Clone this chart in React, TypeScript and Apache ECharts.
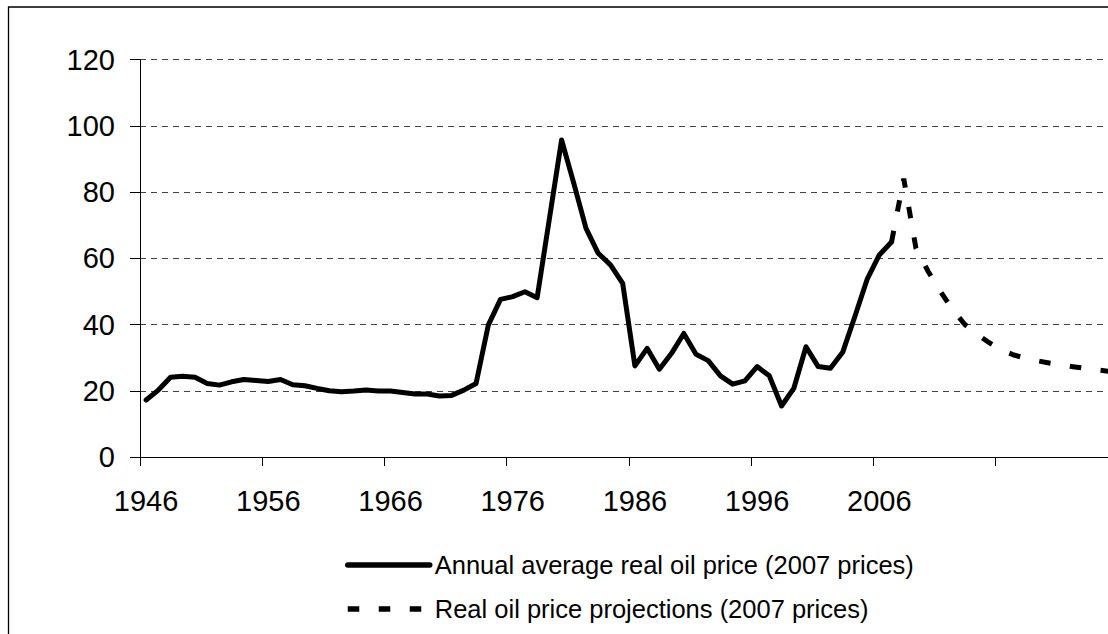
import React, { useEffect, useRef } from "react";
import * as echarts from "echarts";

const FIRST_YEAR = 1946;
const LAST_YEAR = 2025;
const LAST_LABELLED_YEAR = 2007;

const years: string[] = [];
for (let y = FIRST_YEAR; y <= LAST_YEAR; y++) years.push(String(y));

// Annual average real oil price (2007 prices), 1946–2007
const historical = [
  17.2, 20.2, 24.1, 24.4, 24.1, 22.2, 21.7, 22.7, 23.4, 23.1,
  22.8, 23.4, 21.8, 21.5, 20.7, 20.0, 19.7, 19.9, 20.2, 19.9,
  19.9, 19.5, 19.0, 19.0, 18.4, 18.6, 20.2, 22.2, 39.8, 47.6,
  48.4, 49.9, 48.1, 71.9, 95.7, 82.6, 69.0, 61.5, 58.0, 52.4,
  27.5, 32.8, 26.5, 31.3, 37.3, 31.0, 29.1, 24.5, 22.0, 23.0,
  27.3, 24.5, 15.4, 20.7, 33.3, 27.3, 26.8, 31.6, 42.4, 53.6,
  61.0, 64.9,
];

// Real oil price projections (2007 prices), 2007–2025
const PROJECTION_START = 2007;
const projection = [
  64.9, 84.0, 63.0, 56.0, 50.0, 44.5, 40.0, 37.0, 34.5, 32.3,
  30.8, 29.8, 29.0, 28.3, 27.7, 27.2, 26.7, 26.2, 25.8,
];

const yTicks = { min: 0, max: 120, interval: 20 };

const seriesNames = [
  "Annual average real oil price (2007 prices)",
  "Real oil price projections (2007 prices)",
];

const FONT = "'Liberation Sans', Arial, sans-serif";

export default function App() {
  const ref = useRef<HTMLDivElement>(null);

  useEffect(() => {
    if (!ref.current) return;
    const chart = echarts.init(ref.current, null, { renderer: "svg" });
    const projData: (number | null)[] = [];
    for (let i = 0; i < PROJECTION_START - FIRST_YEAR; i++) projData.push(null);
    projection.forEach((v) => projData.push(v));

    chart.setOption({
      animation: false,
      backgroundColor: "#ffffff",
      textStyle: { fontFamily: FONT, color: "#000" },
      graphic: [
        {
          type: "rect",
          shape: { x: 8.5, y: 7, width: 1300, height: 800 },
          style: { fill: "none", stroke: "#000", lineWidth: 1.3 },
          silent: true,
        },
      ],
      grid: { left: 140, right: 12.4, top: 59.5, bottom: 177, containLabel: false },
      legend: {
        orient: "vertical",
        left: 340,
        top: 546,
        itemWidth: 82,
        itemHeight: 1,
        itemGap: 16,
        lineStyle: { width: 5.5 },
        textStyle: { fontFamily: FONT, fontSize: 25.5, color: "#000", lineHeight: 28 },
        data: seriesNames,
      },
      xAxis: {
        type: "category",
        data: years,
        boundaryGap: true,
        axisLine: { show: true, lineStyle: { color: "#000", width: 1 } },
        axisTick: { show: true, interval: 9, length: 9, lineStyle: { color: "#000" } },
        axisLabel: {
          interval: 9,
          margin: 29,
          fontSize: 29,
          fontFamily: FONT,
          color: "#000",
          formatter: (v: string) => (Number(v) <= LAST_LABELLED_YEAR ? v : ""),
        },
        splitLine: { show: false },
      },
      yAxis: {
        type: "value",
        min: yTicks.min,
        max: yTicks.max,
        interval: yTicks.interval,
        axisLine: { show: true, lineStyle: { color: "#000", width: 1 } },
        axisTick: { show: true, length: 10, lineStyle: { color: "#000" } },
        axisLabel: { margin: 25, fontSize: 29, fontFamily: FONT, color: "#000" },
        splitLine: {
          show: true,
          lineStyle: { color: "#444", width: 1, type: [6, 5] },
        },
      },
      series: [
        {
          name: seriesNames[0],
          type: "line",
          data: historical,
          symbol: "none",
          smooth: false,
          lineStyle: { color: "#000", width: 5, cap: "round", join: "round" },
          itemStyle: { color: "#000" },
          z: 3,
        },
        {
          name: seriesNames[1],
          type: "line",
          data: projData,
          symbol: "none",
          smooth: false,
          connectNulls: false,
          lineStyle: { color: "#000", width: 5, type: [11.5, 19.5], cap: "butt" },
          itemStyle: { color: "#000" },
          z: 2,
        },
      ],
    });
    return () => chart.dispose();
  }, []);

  return (
    <div
      style={{
        position: "fixed",
        left: 0,
        top: 0,
        width: 1108,
        height: 634,
        overflow: "hidden",
      }}
    >
      <div ref={ref} style={{ width: 1130, height: 634 }} />
    </div>
  );
}
